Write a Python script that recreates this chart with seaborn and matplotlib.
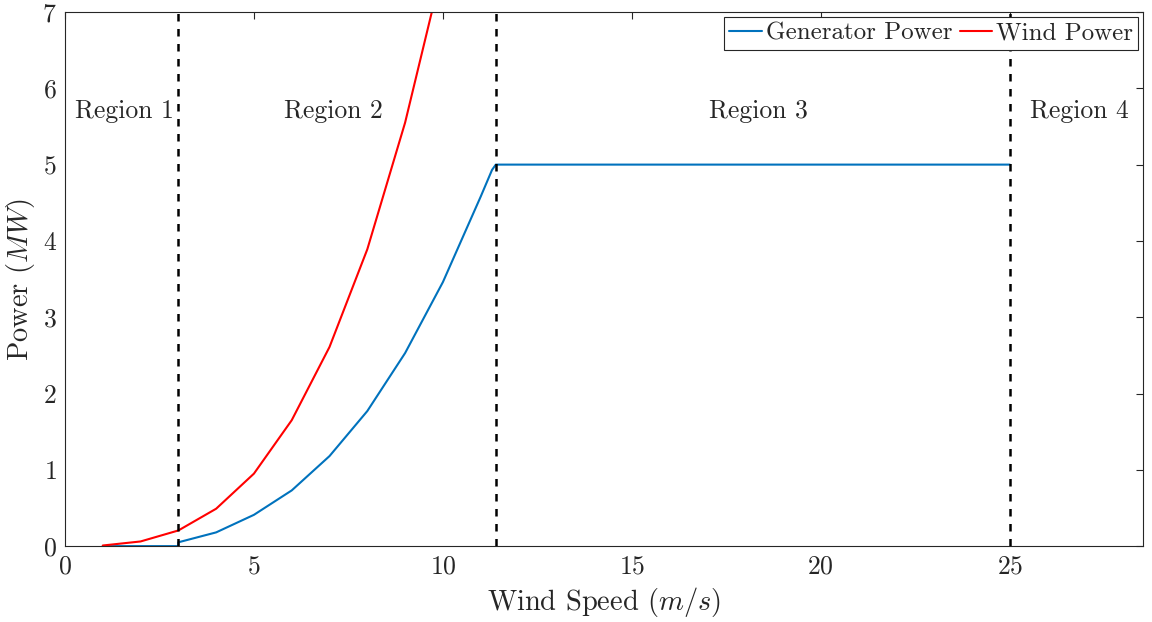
import matplotlib
matplotlib.use("Agg")
import matplotlib.pyplot as plt
import seaborn as sns
import pandas as pd

# Data
gen_speed = [1, 2, 3, 3, 4, 5, 6, 7, 8, 9, 10, 11, 11.3, 11.4, 25]
gen_power = [0, 0, 0, 0.05, 0.18, 0.41, 0.73, 1.18, 1.77, 2.53, 3.46, 4.58, 4.93, 5.0, 5.0]
wind_speed = [1, 2, 3, 4, 5, 6, 7, 8, 9, 10, 11]
wind_power = [0.008, 0.061, 0.205, 0.49, 0.95, 1.65, 2.61, 3.89, 5.55, 7.6, 10.1]
region_bounds = [3, 11.4, 25]
region_labels = ["Region 1", "Region 2", "Region 3", "Region 4"]
region_centers = [1.58, 7.1, 18.35, 26.85]
x_ticks = [0, 5, 10, 15, 20, 25]
y_ticks = [0, 1, 2, 3, 4, 5, 6, 7]

sns.set_style("white")
plt.rcParams["font.family"] = ["cmr10", "DejaVu Serif"]
plt.rcParams["mathtext.fontset"] = "cm"
plt.rcParams["axes.formatter.use_mathtext"] = True
plt.rcParams["axes.unicode_minus"] = False

fig = plt.figure(figsize=(11.52, 6.22), dpi=100)
ax = fig.add_axes([0.0564, 0.122, 0.992 - 0.0564, 0.9807 - 0.122])

gen_df = pd.DataFrame({"speed": gen_speed, "power": gen_power})
wind_df = pd.DataFrame({"speed": wind_speed, "power": wind_power})

sns.lineplot(data=gen_df, x="speed", y="power", ax=ax, color="#0072BD",
             linewidth=1.5, estimator=None, sort=False, label="Generator Power")
sns.lineplot(data=wind_df, x="speed", y="power", ax=ax, color="#FF0000",
             linewidth=1.5, estimator=None, sort=False, label="Wind Power")

for b in region_bounds:
    ax.axvline(b, color="black", linestyle=(0, (3, 3)), linewidth=1.8, zorder=3)

for cx, lab in zip(region_centers, region_labels):
    ax.text(cx, 5.7, lab, ha="center", va="center", fontsize=18.5)

ax.set_xlim(0, 28.52)
ax.set_ylim(0, 7)
ax.set_xticks(x_ticks)
ax.set_yticks(y_ticks)
ax.tick_params(axis="both", which="both", direction="in", length=5, width=0.8,
               top=True, right=True, labelsize=18.5, colors="#262626", pad=6)
for lbl in ax.get_xticklabels() + ax.get_yticklabels():
    lbl.set_color("#262626")
for s in ax.spines.values():
    s.set_visible(True)
    s.set_color("#262626")
    s.set_linewidth(0.8)

ax.set_xlabel(r"Wind Speed $(m/s)$", fontsize=20.5, color="#262626", labelpad=5)
ax.set_ylabel(r"Power $(MW)$", fontsize=20.5, color="#262626", labelpad=4)

leg = ax.legend(loc="upper right", ncol=2, fontsize=18, frameon=True, fancybox=False,
                edgecolor="#262626", framealpha=1, handlelength=1.3, handletextpad=0.15,
                columnspacing=0.3, borderpad=0.2, borderaxespad=0.2)
leg.get_frame().set_linewidth(0.8)

fig.savefig("out.png", dpi=100)
